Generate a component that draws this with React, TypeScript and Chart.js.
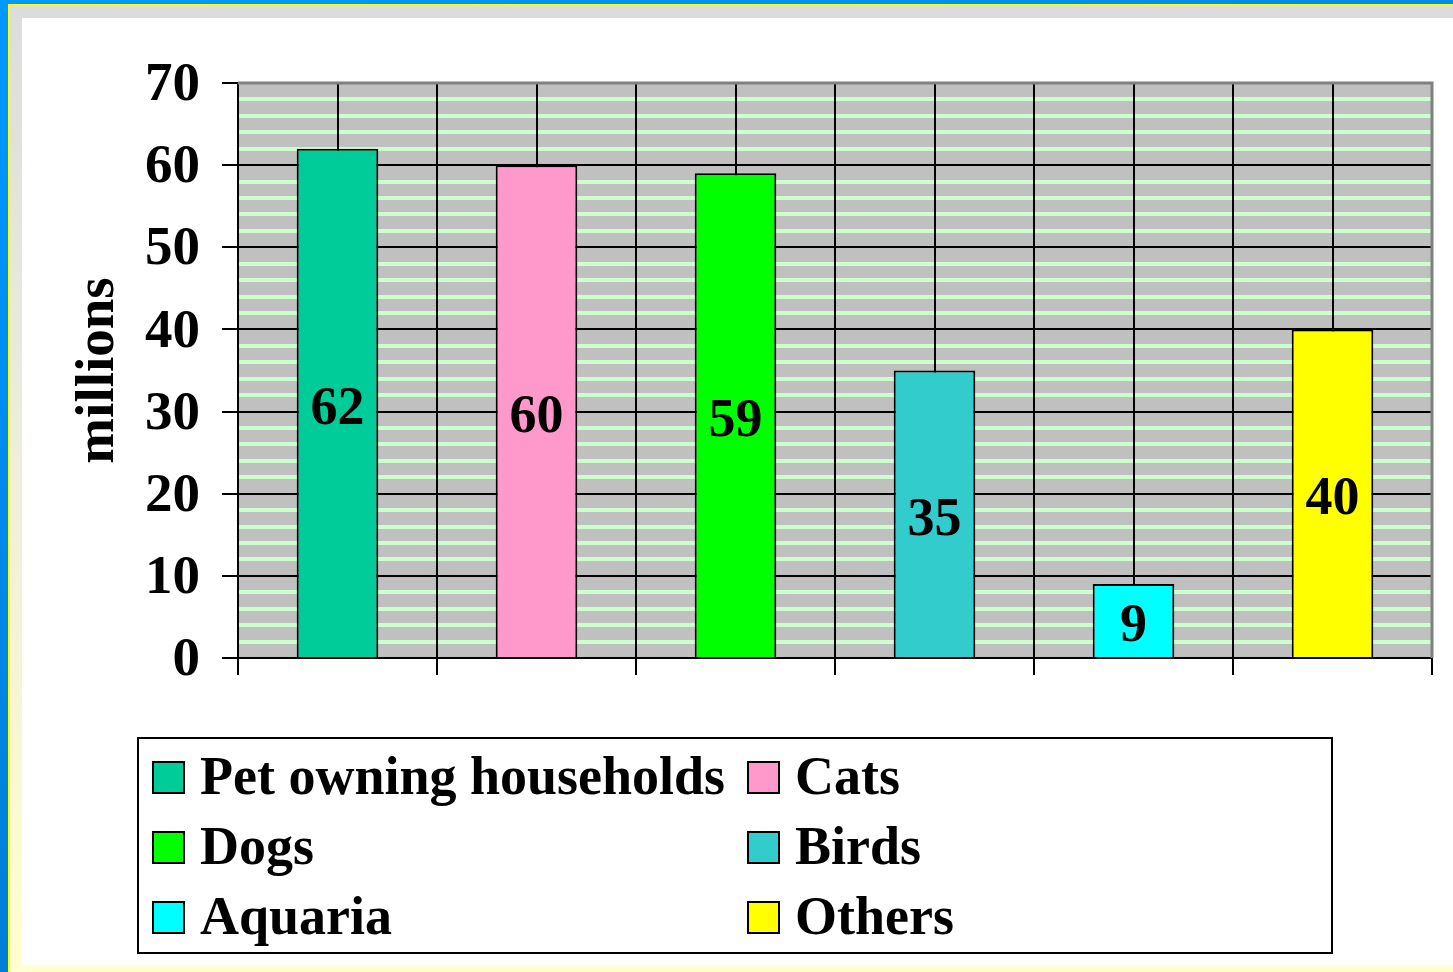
import React, { useEffect, useRef } from "react";
import { Chart, registerables } from "chart.js";

Chart.register(...registerables);

// ---- data ----
const categories = ["Pet owning households", "Cats", "Dogs", "Birds", "Aquaria", "Others"];
const values = [62, 60, 59, 35, 9, 40];
const barColors = ["#00cc99", "#ff99cc", "#00ff00", "#33cccc", "#00ffff", "#ffff00"];
const yMin = 0;
const yMax = 70;
const yStep = 10;
const yMinorStep = 2;
const yTitle = "millions";

const FONT = '"Liberation Serif", "Times New Roman", Times, serif';
const TICK_SIZE = 55;
const LABEL_SIZE = 54;
const LEGEND_SIZE = 54;

const decorPlugin = {
  id: "decor",
  beforeDraw(chart: any) {
    const { ctx, chartArea: a, scales } = chart;
    const y = scales.y;
    ctx.save();
    ctx.fillStyle = "#c0c0c0";
    ctx.fillRect(a.left, a.top, a.right - a.left, a.bottom - a.top);
    ctx.strokeStyle = "#ccffcc";
    ctx.lineWidth = 4;
    for (let v = yMin + yMinorStep; v < yMax; v += yMinorStep) {
      if (v % yStep === 0) continue;
      const py = Math.round(y.getPixelForValue(v));
      ctx.beginPath();
      ctx.moveTo(a.left, py);
      ctx.lineTo(a.right, py);
      ctx.stroke();
    }
    ctx.restore();
  },
  beforeDatasetsDraw(chart: any) {
    const { ctx, chartArea: a, scales } = chart;
    const x = scales.x;
    ctx.save();
    ctx.strokeStyle = "#000";
    ctx.lineWidth = 2;
    categories.forEach((_, i) => {
      const px = Math.round(x.getPixelForValue(i));
      ctx.beginPath();
      ctx.moveTo(px, a.top);
      ctx.lineTo(px, a.bottom);
      ctx.stroke();
    });
    ctx.strokeStyle = "#808080";
    ctx.lineWidth = 3;
    ctx.beginPath();
    ctx.moveTo(a.left, a.top);
    ctx.lineTo(a.right, a.top);
    ctx.lineTo(a.right, a.bottom);
    ctx.stroke();
    ctx.restore();
  },
  afterDatasetsDraw(chart: any) {
    const { ctx } = chart;
    const meta = chart.getDatasetMeta(0);
    ctx.save();
    ctx.fillStyle = "#000";
    ctx.font = `bold ${LABEL_SIZE}px ${FONT}`;
    ctx.textAlign = "center";
    ctx.textBaseline = "middle";
    meta.data.forEach((bar: any, i: number) => {
      const p = bar.getProps(["x", "y", "base"], true);
      ctx.fillText(String(chart.data.datasets[0].data[i]), p.x, (p.y + p.base) / 2 + 7);
    });
    ctx.restore();
  },
  afterDraw(chart: any) {
    const { ctx } = chart;
    const box = { x: 138, y: 738, w: 1194, h: 215 };
    const colX = [153, 748];
    const rowBase = [794, 864, 934];
    const sw = 31;
    ctx.save();
    ctx.fillStyle = "#fff";
    ctx.fillRect(box.x, box.y, box.w, box.h);
    ctx.strokeStyle = "#000";
    ctx.lineWidth = 2;
    ctx.strokeRect(box.x, box.y, box.w, box.h);
    ctx.font = `bold ${LEGEND_SIZE}px ${FONT}`;
    ctx.textAlign = "left";
    ctx.textBaseline = "alphabetic";
    const labels = chart.data.labels as string[];
    const colors = chart.data.datasets[0].backgroundColor as string[];
    labels.forEach((lab, i) => {
      const cx = colX[i % 2];
      const by = rowBase[Math.floor(i / 2)];
      ctx.fillStyle = colors[i];
      ctx.fillRect(cx, by - sw - 1, sw, sw);
      ctx.strokeStyle = "#000";
      ctx.lineWidth = 2;
      ctx.strokeRect(cx, by - sw - 1, sw, sw);
      ctx.fillStyle = "#000";
      ctx.fillText(lab, cx + 47, by);
    });
    ctx.restore();
  },
};

export default function App() {
  const canvasRef = useRef<HTMLCanvasElement | null>(null);

  useEffect(() => {
    const canvas = canvasRef.current;
    if (!canvas) return;
    const chart = new Chart(canvas, {
      type: "bar",
      data: {
        labels: categories,
        datasets: [
          {
            data: values,
            backgroundColor: barColors,
            borderColor: "#000",
            borderWidth: 2,
            barPercentage: 0.41,
            categoryPercentage: 1,
          },
        ],
      },
      options: {
        responsive: false,
        animation: false,
        devicePixelRatio: 1,
        layout: { padding: { top: 83, right: 21, left: 0, bottom: 0 } },
        font: { family: FONT, size: TICK_SIZE, weight: "bold" },
        plugins: {
          legend: { display: false },
          tooltip: { enabled: false },
        },
        scales: {
          x: {
            type: "category",
            offset: true,
            ticks: { display: false },
            grid: {
              offset: true,
              color: "#000",
              lineWidth: 2,
              tickLength: 17,
              drawOnChartArea: true,
            },
            border: { color: "#000", width: 2 },
            afterFit(scale: any) {
              scale.height = 314;
            },
          },
          y: {
            min: yMin,
            max: yMax,
            ticks: {
              stepSize: yStep,
              color: "#000",
              padding: 22,
              labelOffset: 3,
              font: { family: FONT, size: TICK_SIZE, weight: "bold" },
            },
            grid: {
              color: (c: any) => (c.tick && c.tick.value === yMax ? "#808080" : "#000"),
              tickColor: "#000",
              lineWidth: 2,
              tickLength: 16,
            },
            border: { color: "#000", width: 2 },
            title: {
              display: true,
              text: yTitle,
              color: "#000",
              font: { family: FONT, size: TICK_SIZE, weight: "bold" },
              padding: { top: 66, bottom: 0 },
            },
            afterFit(scale: any) {
              scale.width = 238;
            },
          },
        },
      },
      plugins: [decorPlugin],
    } as any);
    return () => chart.destroy();
  }, []);

  return (
    <div
      style={{
        position: "fixed",
        left: 0,
        top: 0,
        width: 1453,
        height: 972,
        overflow: "hidden",
        background: "linear-gradient(160deg, #0099ff 0%, #0088e8 40%, #0070c0 100%)",
      }}
    >
      <div style={{ position: "absolute", left: 8, top: 4, right: 0, bottom: 0, background: "#ffff00" }} />
      <div
        style={{
          position: "absolute",
          left: 10,
          top: 6,
          right: 0,
          bottom: 0,
          background: "linear-gradient(to bottom, #dcdcdc 0%, #ececdc 40%, #ffffd0 100%)",
        }}
      />
      <div style={{ position: "absolute", left: 22, top: 18, right: 0, bottom: 7, background: "#ffffff" }} />
      <canvas
        ref={canvasRef}
        width={1453}
        height={972}
        style={{ position: "absolute", left: 0, top: 0, width: 1453, height: 972 }}
      />
    </div>
  );
}
